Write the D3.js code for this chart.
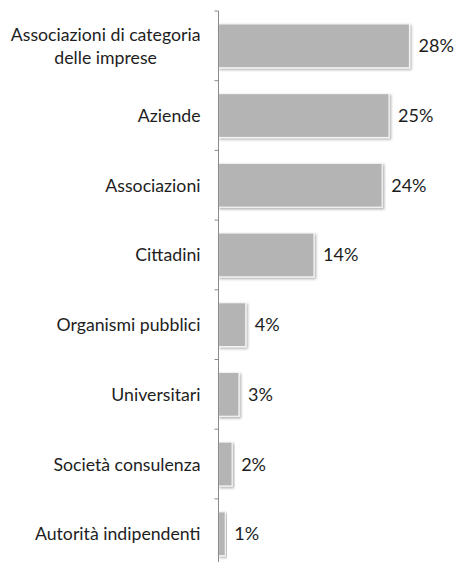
<!DOCTYPE html>
<html>
<head>
<meta charset="utf-8">
<script src="https://cdn.jsdelivr.net/npm/d3@7"></script>
<style>
  html, body { margin: 0; padding: 0; background: #fff; }
  svg { display: block; }
  text { font-family: Lato, "Open Sans", sans-serif; fill: #1e1e1e; }
</style>
</head>
<body>
<svg id="chart" width="455" height="562"></svg>
<script>
// Categories (each entry is a list of label lines) and their shares in percent
const categories = [
  ["Associazioni di categoria", "delle imprese"],
  ["Aziende"],
  ["Associazioni"],
  ["Cittadini"],
  ["Organismi pubblici"],
  ["Universitari"],
  ["Società consulenza"],
  ["Autorità indipendenti"]
];
const values = [28, 25, 24, 14, 4, 3, 2, 1];
const valueLabels = values.map(v => v + "%");

const svg = d3.select("#chart");
const axisX = 218.5;
const plotTop = 11;
const step = 69.7;

const keys = categories.map(c => c.join(" "));

const y = d3.scaleBand()
  .domain(keys)
  .range([plotTop, plotTop + step * keys.length])
  .paddingInner(0.37)
  .paddingOuter(0.185);

const x = d3.scaleLinear()
  .domain([0, 30])
  .range([axisX, axisX + 191 / 28 * 30]);

// soft drop shadow used by the bars
const defs = svg.append("defs");
const f = defs.append("filter").attr("id", "shadow")
  .attr("x", "-20%").attr("y", "-20%").attr("width", "140%").attr("height", "140%");
f.append("feDropShadow")
  .attr("dx", 1.5).attr("dy", 1.6)
  .attr("stdDeviation", 1.1)
  .attr("flood-color", "#000").attr("flood-opacity", 0.3);

// bars
svg.append("g").selectAll("rect")
  .data(values)
  .join("rect")
  .attr("x", x(0))
  .attr("y", (d, i) => y(keys[i]))
  .attr("width", d => x(d) - x(0))
  .attr("height", y.bandwidth())
  .attr("fill", "#b4b4b4")
  .attr("stroke", "#f4f4f4")
  .attr("stroke-width", 1.2)
  .attr("filter", "url(#shadow)");

// category axis: line plus ticks at the band boundaries
const boundaries = d3.range(keys.length + 1).map(i => plotTop + i * step);
const axisG = svg.append("g");
axisG.append("line")
  .attr("x1", axisX).attr("x2", axisX)
  .attr("y1", boundaries[0]).attr("y2", boundaries[boundaries.length - 1])
  .attr("stroke", "#8a8a8a").attr("stroke-width", 1);
axisG.selectAll("line.tick")
  .data(boundaries)
  .join("line")
  .attr("class", "tick")
  .attr("x1", axisX - 4).attr("x2", axisX)
  .attr("y1", d => d).attr("y2", d => d)
  .attr("stroke", "#8a8a8a").attr("stroke-width", 1);

// category labels: the block sits right-aligned against the axis,
// lines of a wrapped label are centred within that block
const lineH = 23;
const labelRight = axisX - 18;
const labels = svg.append("g").selectAll("text")
  .data(categories)
  .join("text")
  .attr("text-anchor", "middle")
  .attr("font-size", 17.7)
  .attr("y", (d, i) => y(keys[i]) + y.bandwidth() / 2 - (d.length - 1) * lineH / 2 + 6.5);
labels.selectAll("tspan")
  .data(d => d)
  .join("tspan")
  .attr("dy", (d, j) => j === 0 ? 0 : lineH)
  .text(d => d);
labels.each(function () {
  const spans = d3.select(this).selectAll("tspan");
  let maxW = 0;
  spans.each(function () { maxW = Math.max(maxW, this.getComputedTextLength()); });
  spans.attr("x", labelRight - maxW / 2);
});

// value labels at the end of each bar
svg.append("g").selectAll("text")
  .data(values)
  .join("text")
  .attr("x", d => x(d) + 9)
  .attr("y", (d, i) => y(keys[i]) + y.bandwidth() / 2 + 6.5)
  .attr("font-size", 18)
  .text((d, i) => valueLabels[i]);
</script>
</body>
</html>
